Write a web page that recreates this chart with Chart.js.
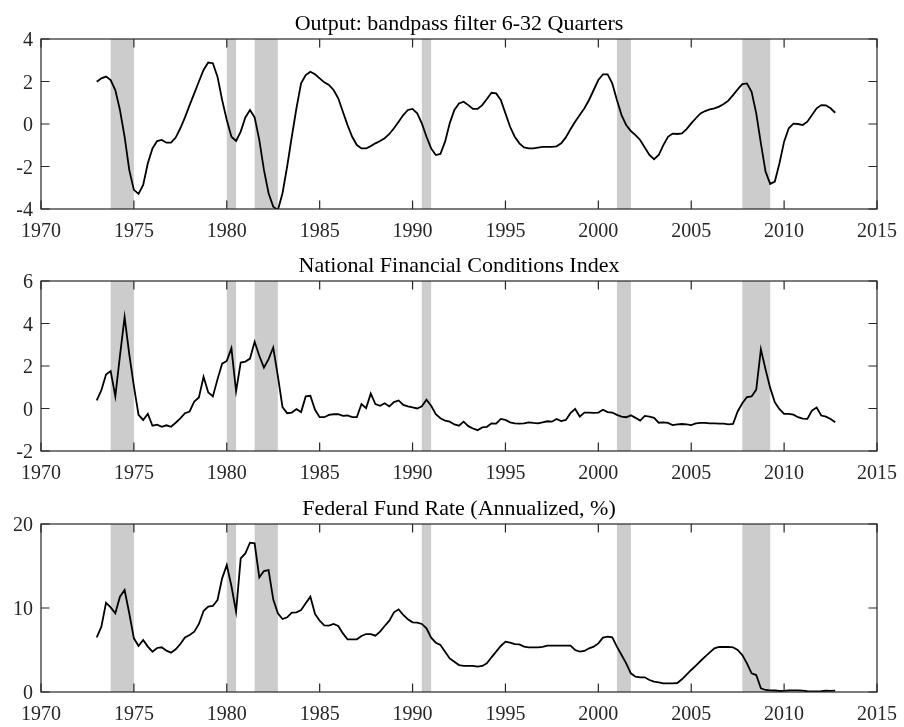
<!DOCTYPE html>
<html>
<head>
<meta charset="utf-8">
<title>Output, NFCI and Federal Funds Rate</title>
<script src="https://cdn.jsdelivr.net/npm/chart.js@4.4.1/dist/chart.umd.min.js"></script>
<style>
  html, body { margin: 0; padding: 0; background: #fff; }
  #wrap { position: relative; width: 904px; height: 727px; overflow: hidden; }
  .panel { position: absolute; left: 0; width: 904px; }
  canvas { display: block; }
</style>
</head>
<body>
<div id="wrap">
  <div class="panel" style="top:0px"><canvas id="outputChart" width="904" height="240"></canvas></div>
  <div class="panel" style="top:242px"><canvas id="nfciChart" width="904" height="240"></canvas></div>
  <div class="panel" style="top:485px"><canvas id="ffrChart" width="904" height="238"></canvas></div>
</div>
<script>
// Quarterly sample 1973Q1 - 2012Q4
const firstYear = 1973;
const quarters = Array.from({ length: 160 }, (_, i) => firstYear + i / 4);

// NBER recessions (start / end, decimal years)
const recessionStart = [1973.75, 1980.0, 1981.5, 1990.5, 2001.0, 2007.75];
const recessionEnd = [1975.0, 1980.5, 1982.75, 1991.0, 2001.75, 2009.25];

// Tick labels
const yearTicks = [1970, 1975, 1980, 1985, 1990, 1995, 2000, 2005, 2010, 2015];
const outputTicks = [-4, -2, 0, 2, 4];
const nfciTicks = [-2, 0, 2, 4, 6];
const ffrTicks = [0, 10, 20];

// Output gap, bandpass filter 6-32 quarters
const outputGap = [
  1.99, 2.15, 2.23, 2.07, 1.6, 0.66, -0.6, -2.16, -3.1, -3.29,
  -2.87, -1.85, -1.15, -0.8, -0.75, -0.88, -0.88, -0.64, -0.2, 0.31,
  0.89, 1.44, 2.0, 2.54, 2.89, 2.86, 2.23, 1.13, 0.19, -0.6,
  -0.8, -0.36, 0.31, 0.66, 0.31, -0.75, -2.16, -3.26, -3.89, -4.05,
  -3.26, -2.0, -0.6, 0.74, 1.91, 2.3, 2.46, 2.34, 2.15, 1.96,
  1.84, 1.6, 1.21, 0.58, -0.05, -0.6, -0.99, -1.15, -1.15, -1.04,
  -0.91, -0.8, -0.67, -0.47, -0.2, 0.11, 0.42, 0.66, 0.71, 0.5,
  0.03, -0.6, -1.15, -1.46, -1.41, -0.83, 0.03, 0.66, 0.97, 1.05,
  0.89, 0.71, 0.71, 0.89, 1.18, 1.47, 1.44, 1.13, 0.5, -0.13,
  -0.6, -0.91, -1.1, -1.15, -1.15, -1.11, -1.08, -1.08, -1.08, -1.05,
  -0.91, -0.63, -0.25, 0.11, 0.42, 0.74, 1.13, 1.6, 2.07, 2.34,
  2.34, 1.91, 1.13, 0.42, -0.05, -0.33, -0.52, -0.75, -1.11, -1.46,
  -1.66, -1.46, -0.99, -0.6, -0.45, -0.47, -0.44, -0.24, 0.03, 0.27,
  0.5, 0.61, 0.69, 0.74, 0.82, 0.94, 1.1, 1.36, 1.63, 1.88,
  1.91, 1.52, 0.5, -0.91, -2.24, -2.82, -2.71, -1.85, -0.83, -0.2,
  0.02, 0.0, -0.05, 0.11, 0.42, 0.74, 0.89, 0.88, 0.74, 0.53
];

// National Financial Conditions Index
const nfci = [
  0.38, 0.86, 1.6, 1.76, 0.57, 2.48, 4.3, 2.56, 1.05, -0.3,
  -0.54, -0.25, -0.81, -0.76, -0.86, -0.79, -0.86, -0.67, -0.46, -0.22,
  -0.14, 0.33, 0.52, 1.49, 0.76, 0.57, 1.37, 2.11, 2.24, 2.84,
  0.81, 2.16, 2.21, 2.35, 3.14, 2.48, 1.92, 2.32, 2.87, 1.52,
  0.06, -0.22, -0.19, -0.03, -0.17, 0.57, 0.6, -0.06, -0.41, -0.41,
  -0.3, -0.27, -0.27, -0.35, -0.33, -0.41, -0.41, 0.21, 0.02, 0.7,
  0.21, 0.13, 0.25, 0.1, 0.3, 0.38, 0.17, 0.1, 0.05, 0.0,
  0.1, 0.41, 0.13, -0.27, -0.46, -0.57, -0.62, -0.75, -0.81, -0.62,
  -0.83, -0.94, -1.02, -0.89, -0.86, -0.7, -0.71, -0.49, -0.54, -0.65,
  -0.7, -0.71, -0.7, -0.65, -0.68, -0.7, -0.65, -0.6, -0.62, -0.49,
  -0.59, -0.54, -0.22, -0.02, -0.38, -0.19, -0.19, -0.21, -0.19, -0.06,
  -0.17, -0.19, -0.3, -0.38, -0.41, -0.32, -0.44, -0.57, -0.35, -0.38,
  -0.44, -0.67, -0.65, -0.68, -0.78, -0.75, -0.73, -0.75, -0.78, -0.7,
  -0.68, -0.68, -0.7, -0.7, -0.71, -0.71, -0.75, -0.73, -0.14, 0.25,
  0.54, 0.57, 0.89, 2.79, 1.84, 0.97, 0.29, -0.03, -0.25, -0.25,
  -0.29, -0.41, -0.48, -0.49, -0.1, 0.05, -0.33, -0.38, -0.49, -0.65
];

// Federal funds rate, annualized %
const fedFunds = [
  6.5, 7.78, 10.63, 10.08, 9.37, 11.35, 12.14, 9.37, 6.39, 5.48,
  6.19, 5.4, 4.8, 5.24, 5.32, 4.92, 4.68, 5.08, 5.71, 6.5,
  6.79, 7.18, 8.1, 9.64, 10.16, 10.24, 10.95, 13.53, 15.12, 12.62,
  9.56, 15.91, 16.5, 17.78, 17.7, 13.65, 14.4, 14.52, 11.03, 9.37,
  8.69, 8.89, 9.44, 9.48, 9.76, 10.56, 11.35, 9.29, 8.49, 7.94,
  7.9, 8.1, 7.86, 6.98, 6.27, 6.27, 6.27, 6.67, 6.9, 6.9,
  6.71, 7.18, 7.86, 8.49, 9.48, 9.84, 9.17, 8.65, 8.29, 8.25,
  8.1, 7.58, 6.47, 5.87, 5.6, 4.8, 4.0, 3.61, 3.21, 3.1,
  3.1, 3.1, 3.02, 3.1, 3.41, 4.13, 4.8, 5.48, 5.99, 5.87,
  5.71, 5.67, 5.4, 5.32, 5.32, 5.32, 5.36, 5.52, 5.52, 5.52,
  5.52, 5.52, 5.52, 5.0, 4.8, 4.88, 5.2, 5.4, 5.79, 6.47,
  6.59, 6.5, 5.4, 4.4, 3.41, 2.22, 1.83, 1.75, 1.75, 1.43,
  1.23, 1.15, 1.03, 1.03, 1.03, 1.07, 1.51, 2.06, 2.62, 3.13,
  3.69, 4.21, 4.72, 5.2, 5.36, 5.36, 5.36, 5.32, 5.0, 4.4,
  3.41, 2.22, 2.02, 0.44, 0.24, 0.2, 0.18, 0.12, 0.13, 0.19,
  0.19, 0.19, 0.16, 0.09, 0.08, 0.07, 0.1, 0.15, 0.14, 0.16
];

const SERIF = '"Liberation Serif", "Times New Roman", serif';
const AXIS_COLOR = "#262626";
const TICK_LEN = 8.5;

// Recession shading behind the line, box + inward ticks + title on top
const panelDecor = {
  id: "panelDecor",
  beforeDatasetsDraw(chart) {
    const { ctx, chartArea: a, scales } = chart;
    ctx.save();
    ctx.fillStyle = "#cccccc";
    recessionStart.forEach((s, k) => {
      const x0 = scales.x.getPixelForValue(s);
      const x1 = scales.x.getPixelForValue(recessionEnd[k]);
      ctx.fillRect(x0, a.top, x1 - x0, a.bottom - a.top);
    });
    ctx.restore();
  },
  afterDraw(chart, args, opts) {
    const { ctx, chartArea: a, scales } = chart;
    ctx.save();
    ctx.strokeStyle = AXIS_COLOR;
    ctx.lineWidth = 1.2;
    ctx.strokeRect(a.left, a.top, a.right - a.left, a.bottom - a.top);
    ctx.beginPath();
    scales.x.ticks.forEach((t) => {
      const px = scales.x.getPixelForValue(t.value);
      ctx.moveTo(px, a.bottom);
      ctx.lineTo(px, a.bottom - TICK_LEN);
      ctx.moveTo(px, a.top);
      ctx.lineTo(px, a.top + TICK_LEN);
    });
    scales.y.ticks.forEach((t) => {
      const py = scales.y.getPixelForValue(t.value);
      ctx.moveTo(a.left, py);
      ctx.lineTo(a.left + TICK_LEN, py);
      ctx.moveTo(a.right, py);
      ctx.lineTo(a.right - TICK_LEN, py);
    });
    ctx.stroke();

    ctx.fillStyle = "#000";
    ctx.font = "22px " + SERIF;
    ctx.textAlign = "center";
    ctx.textBaseline = "alphabetic";
    ctx.fillText(opts.title, (a.left + a.right) / 2, a.top - 9.5);
    ctx.restore();
  },
};

function makePanel(canvasId, title, values, yMin, yMax, yTicks) {
  const el = document.getElementById(canvasId);
  return new Chart(el, {
    type: "line",
    data: {
      datasets: [
        {
          data: values.map((v, i) => ({ x: quarters[i], y: v })),
          borderColor: "#000",
          borderWidth: 1.8,
          pointRadius: 0,
          tension: 0,
          fill: false,
        },
      ],
    },
    options: {
      responsive: false,
      animation: false,
      events: [],
      layout: { padding: { top: 39, right: 27, bottom: 0, left: 0 } },
      plugins: {
        legend: { display: false },
        tooltip: { enabled: false },
        panelDecor: { title },
      },
      scales: {
        x: {
          type: "linear",
          min: 1970,
          max: 2015,
          grid: { display: false, drawTicks: false },
          border: { display: false },
          afterBuildTicks: (s) => {
            s.ticks = yearTicks.map((v) => ({ value: v }));
          },
          afterFit: (s) => {
            s.height = 31;
          },
          ticks: {
            autoSkip: false,
            maxRotation: 0,
            padding: 5,
            color: AXIS_COLOR,
            font: { family: SERIF, size: 20, lineHeight: 1.8 },
            callback: (v) => String(v),
          },
        },
        y: {
          min: yMin,
          max: yMax,
          grid: { display: false, drawTicks: false },
          border: { display: false },
          afterBuildTicks: (s) => {
            s.ticks = yTicks.map((v) => ({ value: v }));
          },
          afterFit: (s) => {
            s.width = 41;
          },
          ticks: {
            padding: 8,
            labelOffset: 2,
            color: AXIS_COLOR,
            font: { family: SERIF, size: 20 },
            callback: (v) => String(v),
          },
        },
      },
    },
    plugins: [panelDecor],
  });
}

makePanel("outputChart", "Output: bandpass filter 6-32 Quarters", outputGap, -4, 4, outputTicks);
makePanel("nfciChart", "National Financial Conditions Index", nfci, -2, 6, nfciTicks);
makePanel("ffrChart", "Federal Fund Rate (Annualized, %)", fedFunds, 0, 20, ffrTicks);
</script>
</body>
</html>
